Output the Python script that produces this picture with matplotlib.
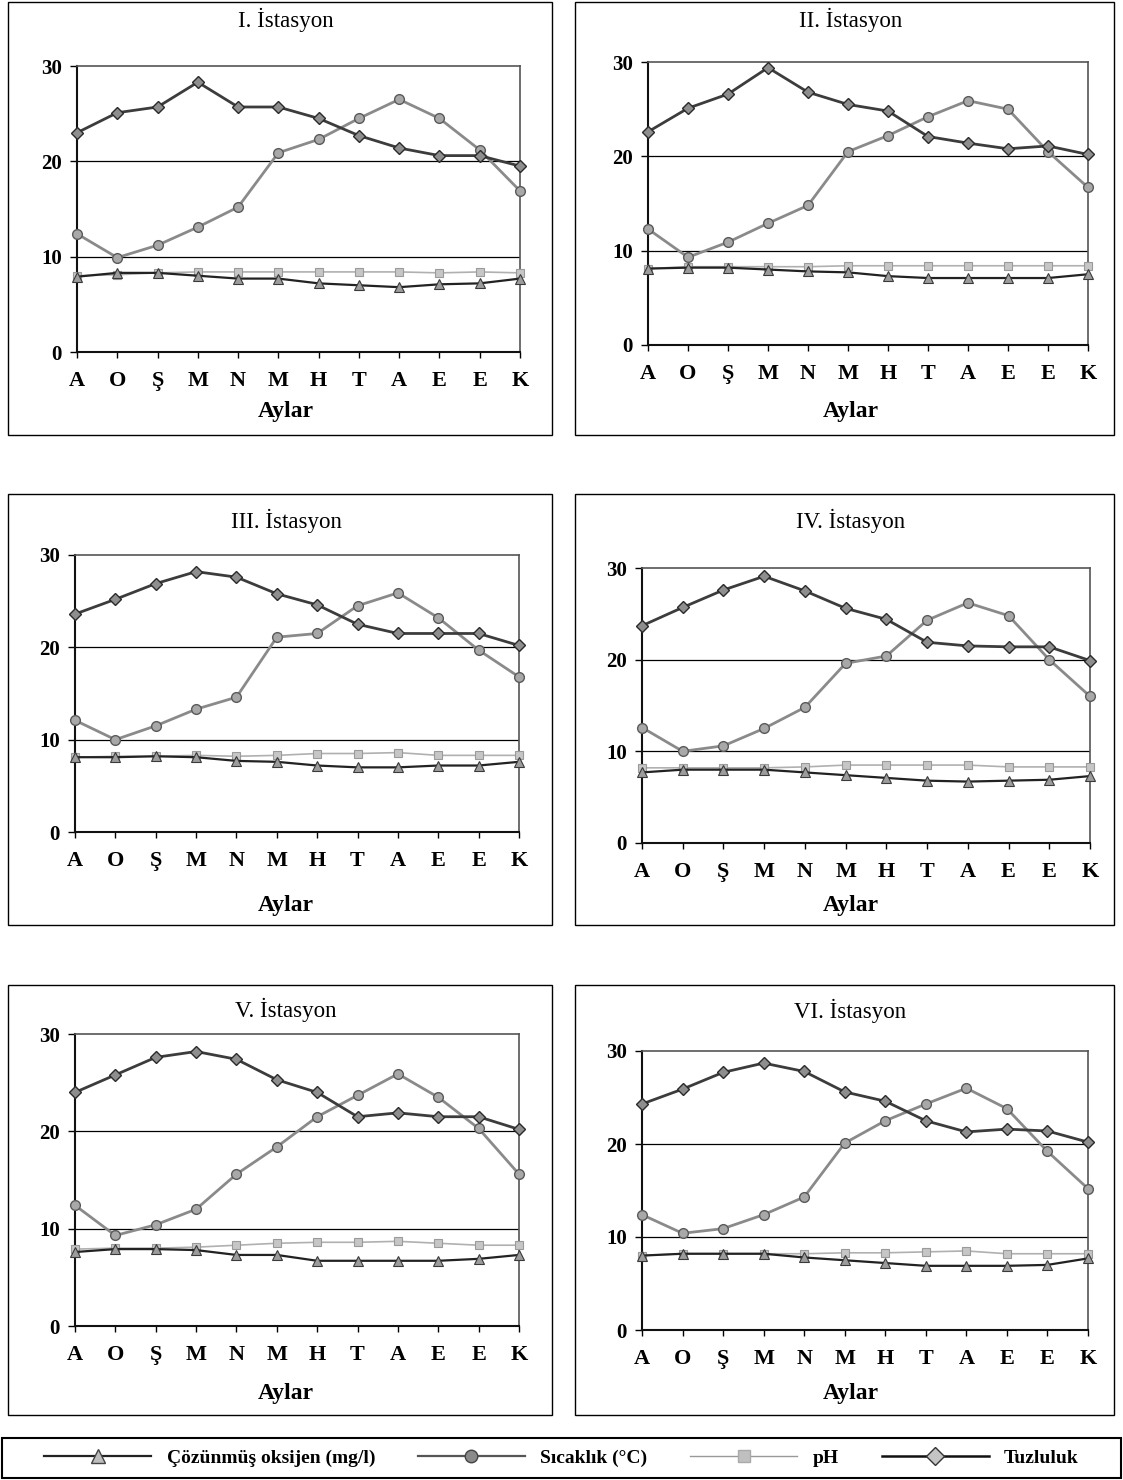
import matplotlib
matplotlib.use("Agg")
import matplotlib.pyplot as plt
from matplotlib.lines import Line2D
from matplotlib.patches import Rectangle

# months (Ağustos ... Kasım)
months = ['A', 'O', 'Ş', 'M', 'N', 'M', 'H', 'T', 'A', 'E', 'E', 'K']
titles = ['I. İstasyon', 'II. İstasyon', 'III. İstasyon',
          'IV. İstasyon', 'V. İstasyon', 'VI. İstasyon']

# one row per station
tuzluluk = [
    [23.0, 25.1, 25.7, 28.3, 25.7, 25.7, 24.5, 22.7, 21.4, 20.6, 20.6, 19.5],
    [22.6, 25.1, 26.6, 29.4, 26.8, 25.5, 24.8, 22.1, 21.4, 20.8, 21.1, 20.2],
    [23.6, 25.2, 26.9, 28.2, 27.6, 25.8, 24.6, 22.5, 21.5, 21.5, 21.5, 20.2],
    [23.7, 25.7, 27.6, 29.1, 27.5, 25.6, 24.4, 21.9, 21.5, 21.4, 21.4, 19.9],
    [24.0, 25.8, 27.6, 28.2, 27.4, 25.3, 24.0, 21.5, 21.9, 21.5, 21.5, 20.2],
    [24.3, 25.9, 27.7, 28.7, 27.8, 25.6, 24.6, 22.5, 21.3, 21.6, 21.4, 20.2],
]
sicaklik = [
    [12.4, 9.9, 11.2, 13.1, 15.2, 20.9, 22.3, 24.5, 26.5, 24.5, 21.2, 16.9],
    [12.3, 9.3, 10.9, 12.9, 14.8, 20.5, 22.2, 24.2, 25.9, 25.0, 20.5, 16.7],
    [12.1, 10.0, 11.5, 13.3, 14.6, 21.1, 21.5, 24.5, 25.9, 23.2, 19.7, 16.8],
    [12.6, 10.0, 10.6, 12.5, 14.8, 19.6, 20.4, 24.3, 26.2, 24.8, 20.0, 16.0],
    [12.4, 9.3, 10.4, 12.0, 15.6, 18.4, 21.5, 23.7, 25.9, 23.5, 20.3, 15.6],
    [12.4, 10.4, 10.9, 12.4, 14.3, 20.1, 22.5, 24.3, 26.0, 23.8, 19.2, 15.2],
]
ph = [
    [8.0, 8.1, 8.3, 8.4, 8.4, 8.4, 8.4, 8.4, 8.4, 8.3, 8.4, 8.3],
    [8.1, 8.3, 8.3, 8.3, 8.3, 8.4, 8.4, 8.4, 8.4, 8.4, 8.4, 8.4],
    [8.1, 8.2, 8.2, 8.3, 8.2, 8.3, 8.5, 8.5, 8.6, 8.3, 8.3, 8.3],
    [8.2, 8.2, 8.2, 8.2, 8.3, 8.5, 8.5, 8.5, 8.5, 8.3, 8.3, 8.3],
    [7.9, 8.0, 8.0, 8.1, 8.3, 8.5, 8.6, 8.6, 8.7, 8.5, 8.3, 8.3],
    [8.0, 8.2, 8.2, 8.2, 8.2, 8.3, 8.3, 8.4, 8.5, 8.2, 8.2, 8.2],
]
oksijen = [
    [7.9, 8.3, 8.3, 8.0, 7.7, 7.7, 7.2, 7.0, 6.8, 7.1, 7.2, 7.7],
    [8.1, 8.2, 8.2, 8.0, 7.8, 7.7, 7.3, 7.1, 7.1, 7.1, 7.1, 7.5],
    [8.1, 8.1, 8.2, 8.1, 7.7, 7.6, 7.2, 7.0, 7.0, 7.2, 7.2, 7.6],
    [7.7, 8.0, 8.0, 8.0, 7.7, 7.4, 7.1, 6.8, 6.7, 6.8, 6.9, 7.3],
    [7.6, 7.9, 7.9, 7.8, 7.3, 7.3, 6.7, 6.7, 6.7, 6.7, 6.9, 7.3],
    [8.0, 8.2, 8.2, 8.2, 7.8, 7.5, 7.2, 6.9, 6.9, 6.9, 7.0, 7.7],
]

W, H = 1123, 1480
plt.rcParams['font.family'] = ['Liberation Serif', 'DejaVu Serif']

fig = plt.figure(figsize=(W / 100, H / 100), dpi=100)


def frac(x0, y0, x1, y1):
    return [x0 / W, 1 - y1 / H, (x1 - x0) / W, (y1 - y0) / H]


# panel frame, plot area, title y, label y
boxes = [(8, 2, 552, 435), (575, 2, 1114, 435),
         (8, 494, 552, 925), (575, 494, 1114, 925),
         (8, 985, 552, 1415), (575, 985, 1114, 1415)]
areas = [(77, 66, 520, 352), (648, 62, 1088, 345),
         (75, 555, 519, 832), (642, 568, 1090, 843),
         (75, 1034, 519, 1326), (642, 1051, 1088, 1330)]
title_y = [20, 20, 521, 521, 1010, 1011]
aylar_y = [412, 411, 905, 905, 1393, 1393]

st_tuz = dict(color='#3c3c3c', lw=2.0, marker='D', ms=6.5, mfc='#8e8e8e', mec='#2a2a2a', mew=1.0)
st_sic = dict(color='#8a8a8a', lw=2.0, marker='o', ms=7, mfc='#a8a8a8', mec='#5a5a5a', mew=1.0)
st_ph = dict(color='#b0b0b0', lw=1.2, marker='s', ms=6, mfc='#c6c6c6', mec='#9a9a9a', mew=0.8)
st_do = dict(color='#222222', lw=1.6, marker='^', ms=7, mfc='#9c9c9c', mec='#3a3a3a', mew=0.8)

x = list(range(len(months)))
for i in range(6):
    bx0, by0, bx1, by1 = boxes[i]
    fig.patches.append(Rectangle((bx0 / W, 1 - by1 / H), (bx1 - bx0) / W, (by1 - by0) / H,
                                 transform=fig.transFigure, fill=False, ec='black', lw=1.0))
    ax = fig.add_axes(frac(*areas[i]))
    for y in (10, 20):
        ax.axhline(y, color='black', lw=0.9, zorder=1)
    ax.plot(x, ph[i], clip_on=False, zorder=3, **st_ph)
    ax.plot(x, oksijen[i], clip_on=False, zorder=4, **st_do)
    ax.plot(x, sicaklik[i], clip_on=False, zorder=5, **st_sic)
    ax.plot(x, tuzluluk[i], clip_on=False, zorder=6, **st_tuz)
    ax.set_xlim(0, 11)
    ax.set_ylim(0, 30)
    ax.set_yticks([0, 10, 20, 30])
    ax.set_xticks(x)
    ax.set_xticklabels(months, fontsize=16, fontweight='bold')
    for lab in ax.get_yticklabels():
        lab.set_fontsize(15)
        lab.set_fontweight('bold')
    ax.tick_params(axis='x', length=4, width=1, pad=10)
    ax.tick_params(axis='y', length=5, width=1, pad=6)
    for s in ('left', 'bottom'):
        ax.spines[s].set_linewidth(1.5)
        ax.spines[s].set_color('#111111')
    for s in ('top', 'right'):
        ax.spines[s].set_linewidth(1.2)
        ax.spines[s].set_color('#555555')
    cx = (bx0 + bx1) / 2 + 6
    fig.text(cx / W, 1 - title_y[i] / H, titles[i], ha='center', va='center', fontsize=16.5)
    fig.text(cx / W, 1 - aylar_y[i] / H, 'Aylar', ha='center', va='center',
             fontsize=17, fontweight='bold')

# legend strip
fig.patches.append(Rectangle((2 / W, 1 - 1478 / H), 1119 / W, 40 / H,
                             transform=fig.transFigure, fill=False, ec='black', lw=1.5))
handles = [
    Line2D([], [], color='#222222', lw=1.6, marker='^', ms=10, mfc='#bdbdbd', mec='#444444'),
    Line2D([], [], color='#555555', lw=1.6, marker='o', ms=9, mfc='#8a8a8a', mec='#444444'),
    Line2D([], [], color='#999999', lw=1.0, marker='s', ms=8, mfc='#c0c0c0', mec='#aaaaaa'),
    Line2D([], [], color='#111111', lw=1.8, marker='D', ms=9, mfc='#c4c4c4', mec='#333333'),
]
labels = ['Çözünmüş oksijen (mg/l)', 'Sıcaklık (°C)', 'pH', 'Tuzluluk']
fig.legend(handles, labels, loc='center', ncol=4, frameon=False,
           bbox_to_anchor=(0.5, 1 - 1458 / H), handlelength=5.5, handletextpad=0.8,
           columnspacing=2.2,
           prop={'family': 'Liberation Serif', 'weight': 'bold', 'size': 14})

fig.savefig('out.png', dpi=100)
